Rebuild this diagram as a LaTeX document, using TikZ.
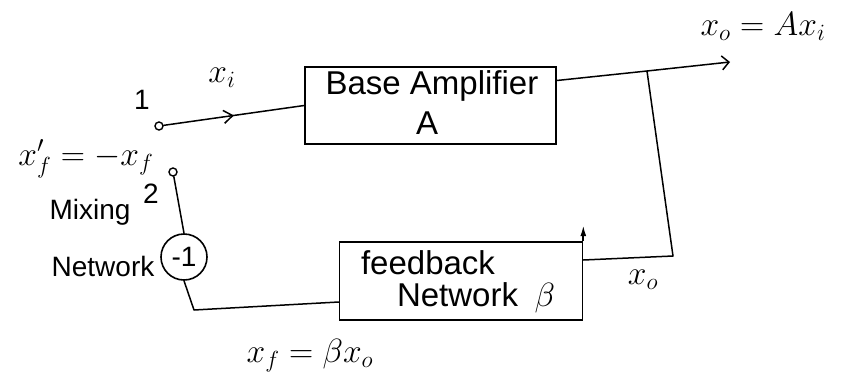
\documentclass[tikz,border=0pt]{standalone}
\usepackage{graphicx}
\usepackage{fontspec}
\setmainfont{Liberation Sans}
\usetikzlibrary{arrows.meta,decorations.markings}
\newcommand{\hwmath}[1]{\scalebox{1.35}{$#1$}}
\tikzset{
  wire/.style={line width=1.5pt, line cap=round, line join=round},
  blockbox/.style={draw, line width=1.6pt, rectangle, inner sep=0pt},
  term/.style={draw, circle, line width=1.4pt, inner sep=0pt, minimum size=8pt, fill=white},
  lbl/.style={font=\fontsize{26}{30}\selectfont, inner sep=0pt},
  midlbl/.style={font=\fontsize{28}{32}\selectfont, inner sep=0pt},
  biglbl/.style={font=\fontsize{33}{36}\selectfont, inner sep=0pt},
  midarrow/.style={postaction={decorate}, decoration={markings,
      mark=at position 0.5 with {\arrow{Straight Barb[length=9pt,width=13pt,line width=1.5pt]}}}}
}
\begin{document}
\begin{tikzpicture}[x=1pt,y=-1pt]
\useasboundingbox[fill=white] (0,0) rectangle (843,381);

% blocks
\node[blockbox, minimum width=251pt, minimum height=77pt] (amp) at (430.5,105.5) {};
\node[biglbl] (ampt) at (432,86) {Base Amplifier};
\node[biglbl] (ampa) at (427,123) {A};

\node[blockbox, minimum width=243pt, minimum height=78pt] (fb) at (461,281) {};
\node[biglbl] (fbt1) at (428,263) {feedback};
\node[biglbl] (fbt2) at (476,298) {Network\enspace\hwmath{\beta}};

% terminals and mixing circle
\node[term] (t1) at (159,126) {};
\node[term] (t2) at (173,172) {};
\node[draw, circle, line width=1.6pt, minimum size=46pt, inner sep=0pt, midlbl] (mix) at (184,257) {-1};

% coordinates
\coordinate (ao) at ([yshift=25pt]amp.east);
\coordinate (j1) at (647,71);
\coordinate (vout) at (730,62);
\coordinate (j2) at (673,256);
\coordinate (fbin) at ([yshift=21pt]fb.east);
\coordinate (fbout) at ([yshift=-21pt]fb.west);
\coordinate (c1) at (194,310);
\coordinate (spk) at ([yshift=16pt]fb.north east);

% connectors
\draw[wire, midarrow] (t1) -- (amp.west);
\draw[wire, -{Straight Barb[length=7pt,width=14pt,line width=1.5pt]}] (ao) -- (j1) -- (vout);
\draw[wire] (j1) -- (j2) -- (fbin);
\draw[wire] (fbout) -- (c1) -- (mix.south);
\draw[wire] (mix.north) -- (t2);
\draw[line width=1.8pt, -{Latex[length=11pt,width=6pt]}] (fb.north east) -- (spk);

% labels
\node[lbl] (lxi) at (222,78) {\hwmath{x_i}};
\node[midlbl] (l1) at (142,100) {1};
\node[lbl] (lxfp) at (86,159) {\hwmath{x_f' = -x_f}};
\node[midlbl] (l2) at (151,194) {2};
\node[midlbl] (lmix) at (90,212) {Mixing};
\node[midlbl] (lnet) at (103,266) {Network};
\node[lbl] (lvo) at (763,27) {\hwmath{x_o = A x_i}};
\node[lbl] (lxo) at (643,280) {\hwmath{x_o}};
\node[lbl] (lxf) at (310,356) {\hwmath{x_f = \beta x_o}};
\end{tikzpicture}
\end{document}
